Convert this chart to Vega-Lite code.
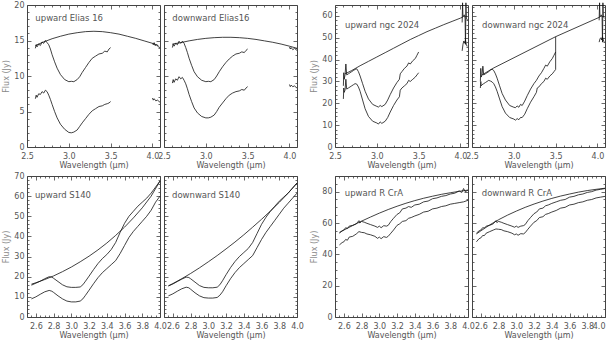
{
"$schema":"https://vega.github.io/schema/vega-lite/v6.json",
"background":"white",
"padding":{"left":2,"top":0,"right":0,"bottom":0},
"config":{"font":"DejaVu Sans","view":{"stroke":"#444","strokeWidth":1},
"axis":{"grid":false,"domain":false,"labelFlush":false,"labelOverlap":false,"labelBound":false,"labelFont":"DejaVu Sans","labelFontSize":8,"labelColor":"#555","titleFont":"DejaVu Sans","titleFontSize":8,"titleFontWeight":"normal","titleColor":"#555","tickColor":"#444","tickWidth":0.8,"labelPadding":3,"titlePadding":3},
"axisX":{"labelPadding":5,"titlePadding":1},
"line":{"color":"#111","strokeWidth":0.8},
"text":{"font":"DejaVu Sans","fontSize":8.5,"color":"#555","align":"left","baseline":"middle"}},
"datasets":{
"labels":[{"p":"A","label":"upward Elias 16"},{"p":"B","label":"downward Elias16"},{"p":"C","label":"upward ngc 2024"},{"p":"D","label":"downward ngc 2024"},{"p":"E","label":"upward S140"},{"p":"F","label":"downward S140"},{"p":"G","label":"upward R CrA"},{"p":"H","label":"downward R CrA"}],
"spec":[
{"p":"A","s":"c","x":2.6,"y":14.3},{"p":"A","s":"c","x":2.7,"y":14.8},{"p":"A","s":"c","x":2.8,"y":15.25},{"p":"A","s":"c","x":2.9,"y":15.6},{"p":"A","s":"c","x":3.0,"y":15.9},{"p":"A","s":"c","x":3.1,"y":16.1},{"p":"A","s":"c","x":3.2,"y":16.25},{"p":"A","s":"c","x":3.3,"y":16.3},{"p":"A","s":"c","x":3.4,"y":16.25},{"p":"A","s":"c","x":3.5,"y":16.1},{"p":"A","s":"c","x":3.6,"y":15.9},{"p":"A","s":"c","x":3.7,"y":15.6},{"p":"A","s":"c","x":3.8,"y":15.3},{"p":"A","s":"c","x":3.9,"y":14.95},{"p":"A","s":"c","x":4.0,"y":14.6},{"p":"A","s":"c","x":4.07,"y":14.3},
{"p":"A","s":"s1","x":2.6,"y":13.9},{"p":"A","s":"s1","x":2.61,"y":14.4},{"p":"A","s":"s1","x":2.62,"y":14.1},{"p":"A","s":"s1","x":2.64,"y":14.5},{"p":"A","s":"s1","x":2.66,"y":14.3},{"p":"A","s":"s1","x":2.68,"y":14.8},{"p":"A","s":"s1","x":2.7,"y":14.6},{"p":"A","s":"s1","x":2.72,"y":15.0},{"p":"A","s":"s1","x":2.74,"y":14.7},{"p":"A","s":"s1","x":2.76,"y":14.4},{"p":"A","s":"s1","x":2.78,"y":13.8},{"p":"A","s":"s1","x":2.8,"y":13.0},{"p":"A","s":"s1","x":2.83,"y":12.0},{"p":"A","s":"s1","x":2.86,"y":11.1},{"p":"A","s":"s1","x":2.9,"y":10.2},{"p":"A","s":"s1","x":2.95,"y":9.5},{"p":"A","s":"s1","x":3.0,"y":9.2},{"p":"A","s":"s1","x":3.03,"y":9.25},{"p":"A","s":"s1","x":3.06,"y":9.2},{"p":"A","s":"s1","x":3.1,"y":9.5},{"p":"A","s":"s1","x":3.13,"y":9.9},{"p":"A","s":"s1","x":3.16,"y":10.5},{"p":"A","s":"s1","x":3.2,"y":11.2},{"p":"A","s":"s1","x":3.24,"y":11.9},{"p":"A","s":"s1","x":3.28,"y":12.5},{"p":"A","s":"s1","x":3.32,"y":12.8},{"p":"A","s":"s1","x":3.36,"y":13.1},{"p":"A","s":"s1","x":3.4,"y":13.2},{"p":"A","s":"s1","x":3.43,"y":13.5},{"p":"A","s":"s1","x":3.46,"y":13.4},{"p":"A","s":"s1","x":3.48,"y":13.8},{"p":"A","s":"s1","x":3.5,"y":14.0},
{"p":"A","s":"s1b","x":4.0,"y":14.6},{"p":"A","s":"s1b","x":4.01,"y":14.4},{"p":"A","s":"s1b","x":4.02,"y":14.7},{"p":"A","s":"s1b","x":4.03,"y":14.3},{"p":"A","s":"s1b","x":4.05,"y":14.4},{"p":"A","s":"s1b","x":4.07,"y":14.1},{"p":"A","s":"s1b","x":4.09,"y":14.0},
{"p":"A","s":"s2","x":2.6,"y":6.8},{"p":"A","s":"s2","x":2.61,"y":7.3},{"p":"A","s":"s2","x":2.62,"y":7.0},{"p":"A","s":"s2","x":2.64,"y":7.5},{"p":"A","s":"s2","x":2.66,"y":7.4},{"p":"A","s":"s2","x":2.68,"y":7.8},{"p":"A","s":"s2","x":2.7,"y":7.6},{"p":"A","s":"s2","x":2.72,"y":8.0},{"p":"A","s":"s2","x":2.74,"y":7.8},{"p":"A","s":"s2","x":2.76,"y":7.3},{"p":"A","s":"s2","x":2.78,"y":6.7},{"p":"A","s":"s2","x":2.8,"y":6.0},{"p":"A","s":"s2","x":2.83,"y":5.0},{"p":"A","s":"s2","x":2.86,"y":4.1},{"p":"A","s":"s2","x":2.9,"y":3.2},{"p":"A","s":"s2","x":2.95,"y":2.5},{"p":"A","s":"s2","x":3.0,"y":2.05},{"p":"A","s":"s2","x":3.03,"y":2.0},{"p":"A","s":"s2","x":3.06,"y":2.1},{"p":"A","s":"s2","x":3.1,"y":2.4},{"p":"A","s":"s2","x":3.13,"y":2.9},{"p":"A","s":"s2","x":3.16,"y":3.4},{"p":"A","s":"s2","x":3.2,"y":4.0},{"p":"A","s":"s2","x":3.24,"y":4.6},{"p":"A","s":"s2","x":3.28,"y":5.1},{"p":"A","s":"s2","x":3.32,"y":5.4},{"p":"A","s":"s2","x":3.36,"y":5.7},{"p":"A","s":"s2","x":3.4,"y":5.8},{"p":"A","s":"s2","x":3.43,"y":6.0},{"p":"A","s":"s2","x":3.46,"y":6.1},{"p":"A","s":"s2","x":3.48,"y":6.2},{"p":"A","s":"s2","x":3.5,"y":6.4},
{"p":"A","s":"s2b","x":4.0,"y":6.9},{"p":"A","s":"s2b","x":4.01,"y":6.6},{"p":"A","s":"s2b","x":4.02,"y":6.8},{"p":"A","s":"s2b","x":4.04,"y":6.5},{"p":"A","s":"s2b","x":4.06,"y":6.6},{"p":"A","s":"s2b","x":4.09,"y":6.3},
{"p":"B","s":"c","x":2.6,"y":14.5},{"p":"B","s":"c","x":2.7,"y":14.7},{"p":"B","s":"c","x":2.8,"y":14.95},{"p":"B","s":"c","x":2.9,"y":15.15},{"p":"B","s":"c","x":3.0,"y":15.3},{"p":"B","s":"c","x":3.1,"y":15.4},{"p":"B","s":"c","x":3.2,"y":15.45},{"p":"B","s":"c","x":3.3,"y":15.45},{"p":"B","s":"c","x":3.4,"y":15.4},{"p":"B","s":"c","x":3.5,"y":15.3},{"p":"B","s":"c","x":3.6,"y":15.15},{"p":"B","s":"c","x":3.7,"y":14.95},{"p":"B","s":"c","x":3.8,"y":14.75},{"p":"B","s":"c","x":3.9,"y":14.5},{"p":"B","s":"c","x":4.0,"y":14.2},{"p":"B","s":"c","x":4.09,"y":13.9},
{"p":"B","s":"s1","x":2.6,"y":14.0},{"p":"B","s":"s1","x":2.61,"y":14.5},{"p":"B","s":"s1","x":2.62,"y":14.2},{"p":"B","s":"s1","x":2.64,"y":14.6},{"p":"B","s":"s1","x":2.66,"y":14.4},{"p":"B","s":"s1","x":2.68,"y":14.9},{"p":"B","s":"s1","x":2.7,"y":14.6},{"p":"B","s":"s1","x":2.72,"y":14.9},{"p":"B","s":"s1","x":2.74,"y":14.6},{"p":"B","s":"s1","x":2.76,"y":14.0},{"p":"B","s":"s1","x":2.78,"y":13.3},{"p":"B","s":"s1","x":2.8,"y":12.5},{"p":"B","s":"s1","x":2.83,"y":11.5},{"p":"B","s":"s1","x":2.86,"y":10.6},{"p":"B","s":"s1","x":2.9,"y":9.9},{"p":"B","s":"s1","x":2.95,"y":9.4},{"p":"B","s":"s1","x":3.0,"y":9.2},{"p":"B","s":"s1","x":3.03,"y":9.25},{"p":"B","s":"s1","x":3.06,"y":9.2},{"p":"B","s":"s1","x":3.1,"y":9.5},{"p":"B","s":"s1","x":3.13,"y":10.0},{"p":"B","s":"s1","x":3.16,"y":10.6},{"p":"B","s":"s1","x":3.2,"y":11.3},{"p":"B","s":"s1","x":3.24,"y":11.9},{"p":"B","s":"s1","x":3.28,"y":12.4},{"p":"B","s":"s1","x":3.32,"y":12.8},{"p":"B","s":"s1","x":3.36,"y":13.1},{"p":"B","s":"s1","x":3.4,"y":13.2},{"p":"B","s":"s1","x":3.43,"y":13.4},{"p":"B","s":"s1","x":3.46,"y":13.3},{"p":"B","s":"s1","x":3.48,"y":13.6},{"p":"B","s":"s1","x":3.5,"y":13.8},
{"p":"B","s":"s1b","x":4.0,"y":14.1},{"p":"B","s":"s1b","x":4.01,"y":13.8},{"p":"B","s":"s1b","x":4.02,"y":14.0},{"p":"B","s":"s1b","x":4.04,"y":13.7},{"p":"B","s":"s1b","x":4.06,"y":13.9},{"p":"B","s":"s1b","x":4.09,"y":13.6},
{"p":"B","s":"s2","x":2.6,"y":9.0},{"p":"B","s":"s2","x":2.61,"y":9.5},{"p":"B","s":"s2","x":2.62,"y":9.1},{"p":"B","s":"s2","x":2.64,"y":9.6},{"p":"B","s":"s2","x":2.66,"y":9.4},{"p":"B","s":"s2","x":2.68,"y":9.9},{"p":"B","s":"s2","x":2.7,"y":9.6},{"p":"B","s":"s2","x":2.72,"y":9.8},{"p":"B","s":"s2","x":2.74,"y":9.4},{"p":"B","s":"s2","x":2.76,"y":8.9},{"p":"B","s":"s2","x":2.78,"y":8.2},{"p":"B","s":"s2","x":2.8,"y":7.4},{"p":"B","s":"s2","x":2.83,"y":6.4},{"p":"B","s":"s2","x":2.86,"y":5.5},{"p":"B","s":"s2","x":2.9,"y":4.8},{"p":"B","s":"s2","x":2.95,"y":4.3},{"p":"B","s":"s2","x":3.0,"y":4.1},{"p":"B","s":"s2","x":3.03,"y":4.1},{"p":"B","s":"s2","x":3.06,"y":4.2},{"p":"B","s":"s2","x":3.1,"y":4.5},{"p":"B","s":"s2","x":3.13,"y":5.0},{"p":"B","s":"s2","x":3.16,"y":5.6},{"p":"B","s":"s2","x":3.2,"y":6.2},{"p":"B","s":"s2","x":3.24,"y":6.8},{"p":"B","s":"s2","x":3.28,"y":7.3},{"p":"B","s":"s2","x":3.32,"y":7.6},{"p":"B","s":"s2","x":3.36,"y":7.8},{"p":"B","s":"s2","x":3.4,"y":7.9},{"p":"B","s":"s2","x":3.43,"y":8.1},{"p":"B","s":"s2","x":3.46,"y":8.0},{"p":"B","s":"s2","x":3.48,"y":8.3},{"p":"B","s":"s2","x":3.5,"y":8.5},
{"p":"B","s":"s2b","x":4.0,"y":8.8},{"p":"B","s":"s2b","x":4.01,"y":8.5},{"p":"B","s":"s2b","x":4.02,"y":8.7},{"p":"B","s":"s2b","x":4.04,"y":8.5},{"p":"B","s":"s2b","x":4.06,"y":8.6},{"p":"B","s":"s2b","x":4.09,"y":8.3},
{"p":"C","s":"c","x":2.62,"y":33.5},{"p":"C","s":"c","x":2.7,"y":35},{"p":"C","s":"c","x":2.8,"y":37.2},{"p":"C","s":"c","x":2.9,"y":39.2},{"p":"C","s":"c","x":3.0,"y":41.2},{"p":"C","s":"c","x":3.1,"y":43.2},{"p":"C","s":"c","x":3.2,"y":45.2},{"p":"C","s":"c","x":3.3,"y":47.2},{"p":"C","s":"c","x":3.4,"y":49.2},{"p":"C","s":"c","x":3.5,"y":51},{"p":"C","s":"c","x":3.6,"y":52.8},{"p":"C","s":"c","x":3.7,"y":54.4},{"p":"C","s":"c","x":3.8,"y":56},{"p":"C","s":"c","x":3.9,"y":57.5},{"p":"C","s":"c","x":4.0,"y":59},{"p":"C","s":"c","x":4.03,"y":59.5},
{"p":"C","s":"s1","x":2.6,"y":28},{"p":"C","s":"s1","x":2.605,"y":34},{"p":"C","s":"s1","x":2.61,"y":31},{"p":"C","s":"s1","x":2.62,"y":33},{"p":"C","s":"s1","x":2.63,"y":38},{"p":"C","s":"s1","x":2.64,"y":33},{"p":"C","s":"s1","x":2.66,"y":33.5},{"p":"C","s":"s1","x":2.68,"y":34},{"p":"C","s":"s1","x":2.7,"y":34.5},{"p":"C","s":"s1","x":2.72,"y":35},{"p":"C","s":"s1","x":2.74,"y":35.5},{"p":"C","s":"s1","x":2.76,"y":35.8},{"p":"C","s":"s1","x":2.78,"y":34.5},{"p":"C","s":"s1","x":2.8,"y":32.5},{"p":"C","s":"s1","x":2.83,"y":29},{"p":"C","s":"s1","x":2.86,"y":25.5},{"p":"C","s":"s1","x":2.9,"y":22},{"p":"C","s":"s1","x":2.95,"y":19.5},{"p":"C","s":"s1","x":3.0,"y":18.6},{"p":"C","s":"s1","x":3.02,"y":18.3},{"p":"C","s":"s1","x":3.04,"y":19},{"p":"C","s":"s1","x":3.06,"y":18.5},{"p":"C","s":"s1","x":3.1,"y":19.5},{"p":"C","s":"s1","x":3.13,"y":21.5},{"p":"C","s":"s1","x":3.16,"y":24},{"p":"C","s":"s1","x":3.2,"y":27},{"p":"C","s":"s1","x":3.24,"y":29.5},{"p":"C","s":"s1","x":3.27,"y":31},{"p":"C","s":"s1","x":3.28,"y":33.5},{"p":"C","s":"s1","x":3.3,"y":34.5},{"p":"C","s":"s1","x":3.33,"y":36},{"p":"C","s":"s1","x":3.36,"y":37},{"p":"C","s":"s1","x":3.38,"y":38.5},{"p":"C","s":"s1","x":3.4,"y":38},{"p":"C","s":"s1","x":3.43,"y":39.5},{"p":"C","s":"s1","x":3.46,"y":40.5},{"p":"C","s":"s1","x":3.48,"y":42},{"p":"C","s":"s1","x":3.5,"y":43.5},
{"p":"C","s":"s1b","x":4.02,"y":57},{"p":"C","s":"s1b","x":4.025,"y":66},{"p":"C","s":"s1b","x":4.03,"y":59.5},{"p":"C","s":"s1b","x":4.045,"y":60.5},{"p":"C","s":"s1b","x":4.055,"y":59},{"p":"C","s":"s1b","x":4.06,"y":47},{"p":"C","s":"s1b","x":4.065,"y":66},{"p":"C","s":"s1b","x":4.07,"y":59},{"p":"C","s":"s1b","x":4.085,"y":58},
{"p":"C","s":"s2","x":2.6,"y":22},{"p":"C","s":"s2","x":2.605,"y":27},{"p":"C","s":"s2","x":2.61,"y":25},{"p":"C","s":"s2","x":2.62,"y":26},{"p":"C","s":"s2","x":2.63,"y":31},{"p":"C","s":"s2","x":2.64,"y":26.5},{"p":"C","s":"s2","x":2.66,"y":27},{"p":"C","s":"s2","x":2.68,"y":27.5},{"p":"C","s":"s2","x":2.7,"y":28},{"p":"C","s":"s2","x":2.72,"y":28.5},{"p":"C","s":"s2","x":2.74,"y":29},{"p":"C","s":"s2","x":2.76,"y":28.8},{"p":"C","s":"s2","x":2.78,"y":27.5},{"p":"C","s":"s2","x":2.8,"y":25.5},{"p":"C","s":"s2","x":2.83,"y":21.5},{"p":"C","s":"s2","x":2.86,"y":17.5},{"p":"C","s":"s2","x":2.9,"y":14},{"p":"C","s":"s2","x":2.95,"y":11.8},{"p":"C","s":"s2","x":3.0,"y":11},{"p":"C","s":"s2","x":3.02,"y":10.5},{"p":"C","s":"s2","x":3.04,"y":11.5},{"p":"C","s":"s2","x":3.06,"y":10.8},{"p":"C","s":"s2","x":3.1,"y":11.8},{"p":"C","s":"s2","x":3.13,"y":13.5},{"p":"C","s":"s2","x":3.16,"y":16},{"p":"C","s":"s2","x":3.2,"y":19},{"p":"C","s":"s2","x":3.24,"y":21.5},{"p":"C","s":"s2","x":3.27,"y":23},{"p":"C","s":"s2","x":3.28,"y":26},{"p":"C","s":"s2","x":3.3,"y":27},{"p":"C","s":"s2","x":3.33,"y":28},{"p":"C","s":"s2","x":3.36,"y":29},{"p":"C","s":"s2","x":3.38,"y":30.5},{"p":"C","s":"s2","x":3.4,"y":30},{"p":"C","s":"s2","x":3.43,"y":31},{"p":"C","s":"s2","x":3.46,"y":32},{"p":"C","s":"s2","x":3.48,"y":33},{"p":"C","s":"s2","x":3.5,"y":34},
{"p":"C","s":"s2b","x":4.02,"y":44},{"p":"C","s":"s2b","x":4.03,"y":47},{"p":"C","s":"s2b","x":4.04,"y":48.5},{"p":"C","s":"s2b","x":4.05,"y":47.5},{"p":"C","s":"s2b","x":4.06,"y":49},{"p":"C","s":"s2b","x":4.07,"y":47},{"p":"C","s":"s2b","x":4.08,"y":46},
{"p":"D","s":"c","x":2.62,"y":33},{"p":"D","s":"c","x":2.75,"y":36},{"p":"D","s":"c","x":3.5,"y":50.5},{"p":"D","s":"c","x":4.03,"y":59.5},
{"p":"D","s":"v","x":3.5,"y":50.5},{"p":"D","s":"v","x":3.5,"y":35.5},
{"p":"D","s":"s1","x":2.6,"y":30},{"p":"D","s":"s1","x":2.605,"y":36},{"p":"D","s":"s1","x":2.61,"y":32},{"p":"D","s":"s1","x":2.62,"y":33},{"p":"D","s":"s1","x":2.63,"y":37},{"p":"D","s":"s1","x":2.64,"y":33},{"p":"D","s":"s1","x":2.66,"y":33.5},{"p":"D","s":"s1","x":2.68,"y":34},{"p":"D","s":"s1","x":2.7,"y":34.5},{"p":"D","s":"s1","x":2.72,"y":35.2},{"p":"D","s":"s1","x":2.74,"y":35.6},{"p":"D","s":"s1","x":2.76,"y":35},{"p":"D","s":"s1","x":2.78,"y":33.5},{"p":"D","s":"s1","x":2.8,"y":31.5},{"p":"D","s":"s1","x":2.83,"y":28},{"p":"D","s":"s1","x":2.86,"y":24.5},{"p":"D","s":"s1","x":2.9,"y":21.5},{"p":"D","s":"s1","x":2.95,"y":19},{"p":"D","s":"s1","x":3.0,"y":18.2},{"p":"D","s":"s1","x":3.02,"y":18},{"p":"D","s":"s1","x":3.04,"y":18.8},{"p":"D","s":"s1","x":3.06,"y":18.2},{"p":"D","s":"s1","x":3.08,"y":19.5},{"p":"D","s":"s1","x":3.1,"y":19},{"p":"D","s":"s1","x":3.13,"y":21},{"p":"D","s":"s1","x":3.16,"y":23.5},{"p":"D","s":"s1","x":3.2,"y":26.5},{"p":"D","s":"s1","x":3.24,"y":29},{"p":"D","s":"s1","x":3.27,"y":30.5},{"p":"D","s":"s1","x":3.3,"y":32.5},{"p":"D","s":"s1","x":3.33,"y":34},{"p":"D","s":"s1","x":3.36,"y":36},{"p":"D","s":"s1","x":3.38,"y":37.5},{"p":"D","s":"s1","x":3.4,"y":37},{"p":"D","s":"s1","x":3.43,"y":39},{"p":"D","s":"s1","x":3.46,"y":40.5},{"p":"D","s":"s1","x":3.48,"y":42},{"p":"D","s":"s1","x":3.5,"y":43.5},
{"p":"D","s":"s1b","x":4.02,"y":58},{"p":"D","s":"s1b","x":4.025,"y":66},{"p":"D","s":"s1b","x":4.03,"y":59.5},{"p":"D","s":"s1b","x":4.045,"y":60.5},{"p":"D","s":"s1b","x":4.055,"y":59.5},{"p":"D","s":"s1b","x":4.06,"y":48},{"p":"D","s":"s1b","x":4.065,"y":66},{"p":"D","s":"s1b","x":4.07,"y":59.5},{"p":"D","s":"s1b","x":4.085,"y":59},
{"p":"D","s":"s2","x":2.6,"y":27},{"p":"D","s":"s2","x":2.605,"y":30},{"p":"D","s":"s2","x":2.61,"y":28},{"p":"D","s":"s2","x":2.62,"y":28.5},{"p":"D","s":"s2","x":2.64,"y":29},{"p":"D","s":"s2","x":2.66,"y":29.5},{"p":"D","s":"s2","x":2.68,"y":30},{"p":"D","s":"s2","x":2.7,"y":30.5},{"p":"D","s":"s2","x":2.72,"y":30.2},{"p":"D","s":"s2","x":2.74,"y":29.8},{"p":"D","s":"s2","x":2.76,"y":29},{"p":"D","s":"s2","x":2.78,"y":27.5},{"p":"D","s":"s2","x":2.8,"y":25.5},{"p":"D","s":"s2","x":2.83,"y":22},{"p":"D","s":"s2","x":2.86,"y":18.5},{"p":"D","s":"s2","x":2.9,"y":15.5},{"p":"D","s":"s2","x":2.95,"y":13.5},{"p":"D","s":"s2","x":3.0,"y":12.8},{"p":"D","s":"s2","x":3.02,"y":12.3},{"p":"D","s":"s2","x":3.04,"y":13},{"p":"D","s":"s2","x":3.06,"y":12.5},{"p":"D","s":"s2","x":3.08,"y":13.5},{"p":"D","s":"s2","x":3.1,"y":13.5},{"p":"D","s":"s2","x":3.13,"y":15},{"p":"D","s":"s2","x":3.16,"y":17.5},{"p":"D","s":"s2","x":3.2,"y":20.5},{"p":"D","s":"s2","x":3.24,"y":23},{"p":"D","s":"s2","x":3.27,"y":25},{"p":"D","s":"s2","x":3.28,"y":27},{"p":"D","s":"s2","x":3.3,"y":27.5},{"p":"D","s":"s2","x":3.33,"y":29},{"p":"D","s":"s2","x":3.36,"y":30},{"p":"D","s":"s2","x":3.38,"y":31.5},{"p":"D","s":"s2","x":3.4,"y":31},{"p":"D","s":"s2","x":3.43,"y":32.5},{"p":"D","s":"s2","x":3.46,"y":33.5},{"p":"D","s":"s2","x":3.48,"y":34.5},{"p":"D","s":"s2","x":3.5,"y":35.5},
{"p":"D","s":"s2b","x":4.02,"y":48},{"p":"D","s":"s2b","x":4.03,"y":49.5},{"p":"D","s":"s2b","x":4.04,"y":50},{"p":"D","s":"s2b","x":4.05,"y":49},{"p":"D","s":"s2b","x":4.06,"y":50.5},{"p":"D","s":"s2b","x":4.07,"y":49},{"p":"D","s":"s2b","x":4.08,"y":48},
{"p":"E","s":"c","x":2.55,"y":16.3},{"p":"E","s":"c","x":2.6,"y":17},{"p":"E","s":"c","x":2.7,"y":18.6},{"p":"E","s":"c","x":2.8,"y":20.4},{"p":"E","s":"c","x":2.9,"y":22.5},{"p":"E","s":"c","x":3.0,"y":24.8},{"p":"E","s":"c","x":3.1,"y":27.4},{"p":"E","s":"c","x":3.2,"y":30.2},{"p":"E","s":"c","x":3.3,"y":33.3},{"p":"E","s":"c","x":3.4,"y":36.7},{"p":"E","s":"c","x":3.5,"y":40.5},{"p":"E","s":"c","x":3.6,"y":44.6},{"p":"E","s":"c","x":3.7,"y":49.2},{"p":"E","s":"c","x":3.8,"y":54.2},{"p":"E","s":"c","x":3.9,"y":60},{"p":"E","s":"c","x":4.0,"y":67.5},
{"p":"E","s":"s1","x":2.55,"y":15.8},{"p":"E","s":"s1","x":2.6,"y":16.8},{"p":"E","s":"s1","x":2.65,"y":17.8},{"p":"E","s":"s1","x":2.7,"y":19},{"p":"E","s":"s1","x":2.75,"y":20},{"p":"E","s":"s1","x":2.78,"y":19.8},{"p":"E","s":"s1","x":2.8,"y":19.2},{"p":"E","s":"s1","x":2.85,"y":17.6},{"p":"E","s":"s1","x":2.9,"y":16},{"p":"E","s":"s1","x":2.95,"y":15},{"p":"E","s":"s1","x":3.0,"y":14.7},{"p":"E","s":"s1","x":3.05,"y":14.7},{"p":"E","s":"s1","x":3.1,"y":14.9},{"p":"E","s":"s1","x":3.13,"y":16},{"p":"E","s":"s1","x":3.16,"y":17.8},{"p":"E","s":"s1","x":3.2,"y":20.3},{"p":"E","s":"s1","x":3.25,"y":23.5},{"p":"E","s":"s1","x":3.3,"y":26.5},{"p":"E","s":"s1","x":3.35,"y":29},{"p":"E","s":"s1","x":3.4,"y":31},{"p":"E","s":"s1","x":3.45,"y":33.5},{"p":"E","s":"s1","x":3.5,"y":37},{"p":"E","s":"s1","x":3.55,"y":42},{"p":"E","s":"s1","x":3.6,"y":46.5},{"p":"E","s":"s1","x":3.65,"y":50},{"p":"E","s":"s1","x":3.7,"y":52.5},{"p":"E","s":"s1","x":3.75,"y":55},{"p":"E","s":"s1","x":3.8,"y":57},{"p":"E","s":"s1","x":3.85,"y":59},{"p":"E","s":"s1","x":3.9,"y":61.5},{"p":"E","s":"s1","x":3.95,"y":64.5},{"p":"E","s":"s1","x":4.0,"y":67.5},
{"p":"E","s":"s2","x":2.55,"y":9},{"p":"E","s":"s2","x":2.6,"y":10},{"p":"E","s":"s2","x":2.65,"y":11.3},{"p":"E","s":"s2","x":2.7,"y":12.5},{"p":"E","s":"s2","x":2.75,"y":13.2},{"p":"E","s":"s2","x":2.78,"y":12.8},{"p":"E","s":"s2","x":2.8,"y":12.2},{"p":"E","s":"s2","x":2.85,"y":10.5},{"p":"E","s":"s2","x":2.9,"y":9},{"p":"E","s":"s2","x":2.95,"y":7.9},{"p":"E","s":"s2","x":3.0,"y":7.5},{"p":"E","s":"s2","x":3.05,"y":7.5},{"p":"E","s":"s2","x":3.1,"y":7.9},{"p":"E","s":"s2","x":3.13,"y":9},{"p":"E","s":"s2","x":3.16,"y":10.8},{"p":"E","s":"s2","x":3.2,"y":13.3},{"p":"E","s":"s2","x":3.25,"y":16.5},{"p":"E","s":"s2","x":3.3,"y":19.5},{"p":"E","s":"s2","x":3.35,"y":22},{"p":"E","s":"s2","x":3.4,"y":24},{"p":"E","s":"s2","x":3.45,"y":26},{"p":"E","s":"s2","x":3.5,"y":28},{"p":"E","s":"s2","x":3.55,"y":31.5},{"p":"E","s":"s2","x":3.6,"y":35.5},{"p":"E","s":"s2","x":3.65,"y":39.5},{"p":"E","s":"s2","x":3.7,"y":42.5},{"p":"E","s":"s2","x":3.75,"y":45},{"p":"E","s":"s2","x":3.8,"y":47.5},{"p":"E","s":"s2","x":3.85,"y":50},{"p":"E","s":"s2","x":3.9,"y":53},{"p":"E","s":"s2","x":3.95,"y":57},{"p":"E","s":"s2","x":4.0,"y":60},
{"p":"F","s":"c","x":2.55,"y":15.5},{"p":"F","s":"c","x":2.6,"y":16.6},{"p":"F","s":"c","x":2.7,"y":19},{"p":"F","s":"c","x":2.8,"y":21.6},{"p":"F","s":"c","x":2.9,"y":24.4},{"p":"F","s":"c","x":3.0,"y":27.4},{"p":"F","s":"c","x":3.1,"y":30.5},{"p":"F","s":"c","x":3.2,"y":33.8},{"p":"F","s":"c","x":3.3,"y":37.2},{"p":"F","s":"c","x":3.4,"y":40.8},{"p":"F","s":"c","x":3.5,"y":44.6},{"p":"F","s":"c","x":3.6,"y":48.5},{"p":"F","s":"c","x":3.7,"y":52.6},{"p":"F","s":"c","x":3.8,"y":56.9},{"p":"F","s":"c","x":3.9,"y":61.5},{"p":"F","s":"c","x":4.0,"y":66.5},
{"p":"F","s":"s1","x":2.55,"y":15.4},{"p":"F","s":"s1","x":2.6,"y":16.4},{"p":"F","s":"s1","x":2.65,"y":17.6},{"p":"F","s":"s1","x":2.7,"y":18.8},{"p":"F","s":"s1","x":2.75,"y":19.8},{"p":"F","s":"s1","x":2.78,"y":19.6},{"p":"F","s":"s1","x":2.8,"y":19},{"p":"F","s":"s1","x":2.85,"y":17.3},{"p":"F","s":"s1","x":2.9,"y":15.6},{"p":"F","s":"s1","x":2.95,"y":14.7},{"p":"F","s":"s1","x":3.0,"y":14.5},{"p":"F","s":"s1","x":3.05,"y":14.5},{"p":"F","s":"s1","x":3.1,"y":14.8},{"p":"F","s":"s1","x":3.13,"y":16},{"p":"F","s":"s1","x":3.16,"y":18},{"p":"F","s":"s1","x":3.2,"y":21},{"p":"F","s":"s1","x":3.25,"y":24.5},{"p":"F","s":"s1","x":3.3,"y":27.5},{"p":"F","s":"s1","x":3.35,"y":30},{"p":"F","s":"s1","x":3.4,"y":32},{"p":"F","s":"s1","x":3.45,"y":34},{"p":"F","s":"s1","x":3.5,"y":37},{"p":"F","s":"s1","x":3.55,"y":41.5},{"p":"F","s":"s1","x":3.6,"y":46},{"p":"F","s":"s1","x":3.65,"y":49.5},{"p":"F","s":"s1","x":3.7,"y":52.5},{"p":"F","s":"s1","x":3.75,"y":55},{"p":"F","s":"s1","x":3.8,"y":57.5},{"p":"F","s":"s1","x":3.85,"y":59.5},{"p":"F","s":"s1","x":3.9,"y":61.5},{"p":"F","s":"s1","x":3.95,"y":64},{"p":"F","s":"s1","x":4.0,"y":66.5},
{"p":"F","s":"s2","x":2.55,"y":10.5},{"p":"F","s":"s2","x":2.6,"y":11.5},{"p":"F","s":"s2","x":2.65,"y":12.8},{"p":"F","s":"s2","x":2.7,"y":14},{"p":"F","s":"s2","x":2.75,"y":14.8},{"p":"F","s":"s2","x":2.78,"y":14.5},{"p":"F","s":"s2","x":2.8,"y":13.8},{"p":"F","s":"s2","x":2.85,"y":12},{"p":"F","s":"s2","x":2.9,"y":10.5},{"p":"F","s":"s2","x":2.95,"y":9.6},{"p":"F","s":"s2","x":3.0,"y":9.4},{"p":"F","s":"s2","x":3.05,"y":9.4},{"p":"F","s":"s2","x":3.1,"y":9.7},{"p":"F","s":"s2","x":3.13,"y":10.8},{"p":"F","s":"s2","x":3.16,"y":12.5},{"p":"F","s":"s2","x":3.2,"y":15.5},{"p":"F","s":"s2","x":3.25,"y":19},{"p":"F","s":"s2","x":3.3,"y":22},{"p":"F","s":"s2","x":3.35,"y":24.5},{"p":"F","s":"s2","x":3.4,"y":26.5},{"p":"F","s":"s2","x":3.45,"y":28.5},{"p":"F","s":"s2","x":3.5,"y":30.5},{"p":"F","s":"s2","x":3.55,"y":34.5},{"p":"F","s":"s2","x":3.6,"y":38.5},{"p":"F","s":"s2","x":3.65,"y":42},{"p":"F","s":"s2","x":3.7,"y":45},{"p":"F","s":"s2","x":3.75,"y":48},{"p":"F","s":"s2","x":3.8,"y":51},{"p":"F","s":"s2","x":3.85,"y":54},{"p":"F","s":"s2","x":3.9,"y":56.5},{"p":"F","s":"s2","x":3.95,"y":59},{"p":"F","s":"s2","x":4.0,"y":61.5},
{"p":"G","s":"c","x":2.55,"y":54},{"p":"G","s":"c","x":2.6,"y":55.5},{"p":"G","s":"c","x":2.7,"y":58.4},{"p":"G","s":"c","x":2.8,"y":61.2},{"p":"G","s":"c","x":2.9,"y":63.8},{"p":"G","s":"c","x":3.0,"y":66.3},{"p":"G","s":"c","x":3.1,"y":68.6},{"p":"G","s":"c","x":3.2,"y":70.7},{"p":"G","s":"c","x":3.3,"y":72.6},{"p":"G","s":"c","x":3.4,"y":74.3},{"p":"G","s":"c","x":3.5,"y":75.8},{"p":"G","s":"c","x":3.6,"y":77.1},{"p":"G","s":"c","x":3.7,"y":78.3},{"p":"G","s":"c","x":3.8,"y":79.3},{"p":"G","s":"c","x":3.9,"y":80.2},{"p":"G","s":"c","x":4.0,"y":81},
{"p":"G","s":"s1","x":2.55,"y":53.5},{"p":"G","s":"s1","x":2.58,"y":55},{"p":"G","s":"s1","x":2.6,"y":55.5},{"p":"G","s":"s1","x":2.62,"y":57},{"p":"G","s":"s1","x":2.64,"y":56.5},{"p":"G","s":"s1","x":2.66,"y":58},{"p":"G","s":"s1","x":2.7,"y":58.5},{"p":"G","s":"s1","x":2.74,"y":59.5},{"p":"G","s":"s1","x":2.77,"y":61.5},{"p":"G","s":"s1","x":2.78,"y":60},{"p":"G","s":"s1","x":2.8,"y":61},{"p":"G","s":"s1","x":2.83,"y":60.5},{"p":"G","s":"s1","x":2.86,"y":59.8},{"p":"G","s":"s1","x":2.9,"y":59},{"p":"G","s":"s1","x":2.95,"y":58},{"p":"G","s":"s1","x":2.98,"y":57.2},{"p":"G","s":"s1","x":3.0,"y":58},{"p":"G","s":"s1","x":3.02,"y":57},{"p":"G","s":"s1","x":3.05,"y":58.3},{"p":"G","s":"s1","x":3.08,"y":58},{"p":"G","s":"s1","x":3.1,"y":58.5},{"p":"G","s":"s1","x":3.13,"y":61},{"p":"G","s":"s1","x":3.16,"y":63},{"p":"G","s":"s1","x":3.2,"y":65.5},{"p":"G","s":"s1","x":3.23,"y":66.5},{"p":"G","s":"s1","x":3.26,"y":69},{"p":"G","s":"s1","x":3.3,"y":69.5},{"p":"G","s":"s1","x":3.33,"y":70.5},{"p":"G","s":"s1","x":3.36,"y":70},{"p":"G","s":"s1","x":3.4,"y":71.5},{"p":"G","s":"s1","x":3.45,"y":72},{"p":"G","s":"s1","x":3.5,"y":73.5},{"p":"G","s":"s1","x":3.55,"y":74},{"p":"G","s":"s1","x":3.6,"y":75.5},{"p":"G","s":"s1","x":3.65,"y":76},{"p":"G","s":"s1","x":3.7,"y":77},{"p":"G","s":"s1","x":3.75,"y":77.5},{"p":"G","s":"s1","x":3.8,"y":78.5},{"p":"G","s":"s1","x":3.85,"y":79},{"p":"G","s":"s1","x":3.9,"y":80.5},{"p":"G","s":"s1","x":3.93,"y":79.5},{"p":"G","s":"s1","x":3.95,"y":82},{"p":"G","s":"s1","x":3.97,"y":80},{"p":"G","s":"s1","x":4.0,"y":81},
{"p":"G","s":"s2","x":2.55,"y":46},{"p":"G","s":"s2","x":2.58,"y":47.5},{"p":"G","s":"s2","x":2.6,"y":48},{"p":"G","s":"s2","x":2.62,"y":49.5},{"p":"G","s":"s2","x":2.64,"y":49},{"p":"G","s":"s2","x":2.66,"y":51},{"p":"G","s":"s2","x":2.7,"y":51.5},{"p":"G","s":"s2","x":2.74,"y":53},{"p":"G","s":"s2","x":2.77,"y":54.5},{"p":"G","s":"s2","x":2.8,"y":54},{"p":"G","s":"s2","x":2.83,"y":53.8},{"p":"G","s":"s2","x":2.86,"y":53},{"p":"G","s":"s2","x":2.9,"y":52.5},{"p":"G","s":"s2","x":2.95,"y":51.5},{"p":"G","s":"s2","x":2.98,"y":50.2},{"p":"G","s":"s2","x":3.0,"y":51},{"p":"G","s":"s2","x":3.02,"y":50},{"p":"G","s":"s2","x":3.05,"y":51.3},{"p":"G","s":"s2","x":3.08,"y":50.8},{"p":"G","s":"s2","x":3.1,"y":51.5},{"p":"G","s":"s2","x":3.13,"y":53.5},{"p":"G","s":"s2","x":3.16,"y":55.5},{"p":"G","s":"s2","x":3.2,"y":58.5},{"p":"G","s":"s2","x":3.23,"y":59.5},{"p":"G","s":"s2","x":3.26,"y":61},{"p":"G","s":"s2","x":3.3,"y":61.5},{"p":"G","s":"s2","x":3.33,"y":63},{"p":"G","s":"s2","x":3.36,"y":63.5},{"p":"G","s":"s2","x":3.4,"y":64.5},{"p":"G","s":"s2","x":3.45,"y":65.5},{"p":"G","s":"s2","x":3.5,"y":67},{"p":"G","s":"s2","x":3.55,"y":67.5},{"p":"G","s":"s2","x":3.6,"y":69},{"p":"G","s":"s2","x":3.65,"y":69.5},{"p":"G","s":"s2","x":3.7,"y":70.5},{"p":"G","s":"s2","x":3.75,"y":71},{"p":"G","s":"s2","x":3.8,"y":72},{"p":"G","s":"s2","x":3.85,"y":72.5},{"p":"G","s":"s2","x":3.9,"y":73},{"p":"G","s":"s2","x":3.95,"y":73.5},{"p":"G","s":"s2","x":4.0,"y":74.5},
{"p":"H","s":"c","x":2.55,"y":53},{"p":"H","s":"c","x":2.6,"y":55},{"p":"H","s":"c","x":2.7,"y":58.8},{"p":"H","s":"c","x":2.8,"y":62.1},{"p":"H","s":"c","x":2.9,"y":65},{"p":"H","s":"c","x":3.0,"y":67.6},{"p":"H","s":"c","x":3.1,"y":70},{"p":"H","s":"c","x":3.2,"y":72.1},{"p":"H","s":"c","x":3.3,"y":74},{"p":"H","s":"c","x":3.4,"y":75.7},{"p":"H","s":"c","x":3.5,"y":77.2},{"p":"H","s":"c","x":3.6,"y":78.5},{"p":"H","s":"c","x":3.7,"y":79.7},{"p":"H","s":"c","x":3.8,"y":80.7},{"p":"H","s":"c","x":3.9,"y":81.5},{"p":"H","s":"c","x":4.0,"y":82.2},
{"p":"H","s":"s1","x":2.55,"y":53.5},{"p":"H","s":"s1","x":2.58,"y":55},{"p":"H","s":"s1","x":2.6,"y":55.5},{"p":"H","s":"s1","x":2.62,"y":57},{"p":"H","s":"s1","x":2.64,"y":56.8},{"p":"H","s":"s1","x":2.66,"y":58},{"p":"H","s":"s1","x":2.7,"y":58.5},{"p":"H","s":"s1","x":2.74,"y":59.5},{"p":"H","s":"s1","x":2.77,"y":61.5},{"p":"H","s":"s1","x":2.78,"y":60.3},{"p":"H","s":"s1","x":2.8,"y":61},{"p":"H","s":"s1","x":2.83,"y":60.5},{"p":"H","s":"s1","x":2.86,"y":59.8},{"p":"H","s":"s1","x":2.9,"y":59},{"p":"H","s":"s1","x":2.95,"y":58},{"p":"H","s":"s1","x":2.98,"y":57.3},{"p":"H","s":"s1","x":3.0,"y":58},{"p":"H","s":"s1","x":3.02,"y":57.2},{"p":"H","s":"s1","x":3.05,"y":58},{"p":"H","s":"s1","x":3.08,"y":58.3},{"p":"H","s":"s1","x":3.1,"y":59},{"p":"H","s":"s1","x":3.13,"y":61.5},{"p":"H","s":"s1","x":3.16,"y":63.5},{"p":"H","s":"s1","x":3.2,"y":66},{"p":"H","s":"s1","x":3.23,"y":67},{"p":"H","s":"s1","x":3.26,"y":69},{"p":"H","s":"s1","x":3.3,"y":69.5},{"p":"H","s":"s1","x":3.33,"y":71},{"p":"H","s":"s1","x":3.36,"y":71.5},{"p":"H","s":"s1","x":3.4,"y":72.5},{"p":"H","s":"s1","x":3.45,"y":73.5},{"p":"H","s":"s1","x":3.5,"y":74.5},{"p":"H","s":"s1","x":3.55,"y":75},{"p":"H","s":"s1","x":3.6,"y":76.5},{"p":"H","s":"s1","x":3.65,"y":77},{"p":"H","s":"s1","x":3.7,"y":78},{"p":"H","s":"s1","x":3.75,"y":78.5},{"p":"H","s":"s1","x":3.8,"y":79.5},{"p":"H","s":"s1","x":3.85,"y":80},{"p":"H","s":"s1","x":3.9,"y":81},{"p":"H","s":"s1","x":3.95,"y":81.5},{"p":"H","s":"s1","x":4.0,"y":82},
{"p":"H","s":"s2","x":2.55,"y":48},{"p":"H","s":"s2","x":2.58,"y":50},{"p":"H","s":"s2","x":2.6,"y":50.5},{"p":"H","s":"s2","x":2.62,"y":52},{"p":"H","s":"s2","x":2.64,"y":52},{"p":"H","s":"s2","x":2.66,"y":53.5},{"p":"H","s":"s2","x":2.7,"y":54.5},{"p":"H","s":"s2","x":2.74,"y":55.5},{"p":"H","s":"s2","x":2.77,"y":56.2},{"p":"H","s":"s2","x":2.8,"y":56},{"p":"H","s":"s2","x":2.83,"y":55.8},{"p":"H","s":"s2","x":2.86,"y":55},{"p":"H","s":"s2","x":2.9,"y":54.5},{"p":"H","s":"s2","x":2.95,"y":53.5},{"p":"H","s":"s2","x":2.98,"y":52.5},{"p":"H","s":"s2","x":3.0,"y":53},{"p":"H","s":"s2","x":3.02,"y":52.2},{"p":"H","s":"s2","x":3.05,"y":53.2},{"p":"H","s":"s2","x":3.08,"y":53},{"p":"H","s":"s2","x":3.1,"y":53.8},{"p":"H","s":"s2","x":3.13,"y":56},{"p":"H","s":"s2","x":3.16,"y":58},{"p":"H","s":"s2","x":3.2,"y":60.5},{"p":"H","s":"s2","x":3.23,"y":61.5},{"p":"H","s":"s2","x":3.26,"y":63.5},{"p":"H","s":"s2","x":3.3,"y":64},{"p":"H","s":"s2","x":3.33,"y":65.5},{"p":"H","s":"s2","x":3.36,"y":66},{"p":"H","s":"s2","x":3.4,"y":67},{"p":"H","s":"s2","x":3.45,"y":68},{"p":"H","s":"s2","x":3.5,"y":69.5},{"p":"H","s":"s2","x":3.55,"y":70},{"p":"H","s":"s2","x":3.6,"y":71.5},{"p":"H","s":"s2","x":3.65,"y":72},{"p":"H","s":"s2","x":3.7,"y":73},{"p":"H","s":"s2","x":3.75,"y":73.5},{"p":"H","s":"s2","x":3.8,"y":74.5},{"p":"H","s":"s2","x":3.85,"y":75},{"p":"H","s":"s2","x":3.9,"y":76},{"p":"H","s":"s2","x":3.95,"y":76.5},{"p":"H","s":"s2","x":4.0,"y":77}
]},
"columns":5,
"spacing":{"row":29,"column":4},
"bounds":"flush",
"concat":[
{"width":133,"height":142,"layer":[
{"data":{"name":"spec"},"transform":[{"filter":"datum.p=='A'"}],"mark":"line","encoding":{"x":{"field":"x","type":"quantitative","scale":{"domain":[2.5,4.09],"nice":false,"zero":false},"axis":{"orient":"bottom","values":[2.5,3,3.5,4],"format":".1f","ticks":false,"title":"Wavelength (μm)"}},"y":{"field":"y","type":"quantitative","scale":{"domain":[0,20],"nice":false},"axis":{"orient":"left","values":[0,5,10,15,20],"format":"d","ticks":false,"title":"Flux (Jy)","titleColor":"#888"}},"detail":{"field":"s"}}},
{"data":{"name":"labels"},"transform":[{"filter":"datum.p=='A'"}],"mark":"text","encoding":{"x":{"datum":2.6,"type":"quantitative","scale":{"domain":[2.5,4.09],"nice":false,"zero":false},"axis":{"orient":"bottom","labels":false,"title":null,"tickCount":16,"tickSize":{"condition":{"test":"abs(datum.value*2-round(datum.value*2))<0.001","value":-4},"value":-2}}},"y":{"datum":18.2,"type":"quantitative","scale":{"domain":[0,20],"nice":false},"axis":{"orient":"left","labels":false,"title":null,"tickCount":20,"tickSize":{"condition":{"test":"abs(datum.value/5-round(datum.value/5))<0.001","value":-4},"value":-2}}},"text":{"field":"label"}}},
{"data":{"name":"labels"},"transform":[{"filter":"datum.p=='A'"}],"mark":{"type":"point","opacity":0},"encoding":{"x":{"datum":2.6,"type":"quantitative","scale":{"domain":[2.5,4.09],"nice":false,"zero":false},"axis":{"orient":"top","labels":false,"title":null,"tickCount":16,"tickSize":{"condition":{"test":"abs(datum.value*2-round(datum.value*2))<0.001","value":-4},"value":-2}}},"y":{"datum":18.2,"type":"quantitative","scale":{"domain":[0,20],"nice":false},"axis":{"orient":"right","labels":false,"title":null,"tickCount":20,"tickSize":{"condition":{"test":"abs(datum.value/5-round(datum.value/5))<0.001","value":-4},"value":-2}}}}}
],"resolve":{"axis":{"x":"independent","y":"independent"}}},
{"width":133,"height":142,"layer":[
{"data":{"name":"spec"},"transform":[{"filter":"datum.p=='B'"}],"mark":"line","encoding":{"x":{"field":"x","type":"quantitative","scale":{"domain":[2.5,4.09],"nice":false,"zero":false},"axis":{"orient":"bottom","values":[2.5,3,3.5,4],"format":".1f","ticks":false,"title":"Wavelength (μm)"}},"y":{"field":"y","type":"quantitative","scale":{"domain":[0,20],"nice":false},"axis":null},"detail":{"field":"s"}}},
{"data":{"name":"labels"},"transform":[{"filter":"datum.p=='B'"}],"mark":"text","encoding":{"x":{"datum":2.6,"type":"quantitative","scale":{"domain":[2.5,4.09],"nice":false,"zero":false},"axis":{"orient":"bottom","labels":false,"title":null,"tickCount":16,"tickSize":{"condition":{"test":"abs(datum.value*2-round(datum.value*2))<0.001","value":-4},"value":-2}}},"y":{"datum":18.2,"type":"quantitative","scale":{"domain":[0,20],"nice":false},"axis":{"orient":"left","labels":false,"title":null,"tickCount":20,"tickSize":{"condition":{"test":"abs(datum.value/5-round(datum.value/5))<0.001","value":-4},"value":-2}}},"text":{"field":"label"}}},
{"data":{"name":"labels"},"transform":[{"filter":"datum.p=='B'"}],"mark":{"type":"point","opacity":0},"encoding":{"x":{"datum":2.6,"type":"quantitative","scale":{"domain":[2.5,4.09],"nice":false,"zero":false},"axis":{"orient":"top","labels":false,"title":null,"tickCount":16,"tickSize":{"condition":{"test":"abs(datum.value*2-round(datum.value*2))<0.001","value":-4},"value":-2}}},"y":{"datum":18.2,"type":"quantitative","scale":{"domain":[0,20],"nice":false},"axis":{"orient":"right","labels":false,"title":null,"tickCount":20,"tickSize":{"condition":{"test":"abs(datum.value/5-round(datum.value/5))<0.001","value":-4},"value":-2}}}}}
],"resolve":{"axis":{"x":"independent","y":"independent"}}},
{"width":30,"height":142,"data":{"values":[{"k":1}]},"mark":{"type":"point","opacity":0},"encoding":{},"view":{"stroke":null}},
{"width":133,"height":142,"layer":[
{"data":{"name":"spec"},"transform":[{"filter":"datum.p=='C'"}],"mark":"line","encoding":{"x":{"field":"x","type":"quantitative","scale":{"domain":[2.5,4.09],"nice":false,"zero":false},"axis":{"orient":"bottom","values":[2.5,3,3.5,4],"format":".1f","ticks":false,"title":"Wavelength (μm)"}},"y":{"field":"y","type":"quantitative","scale":{"domain":[0,65],"nice":false},"axis":{"orient":"left","values":[0,10,20,30,40,50,60],"format":"d","ticks":false,"title":"Flux (Jy)","titleColor":"#888"}},"detail":{"field":"s"}}},
{"data":{"name":"labels"},"transform":[{"filter":"datum.p=='C'"}],"mark":"text","encoding":{"x":{"datum":2.62,"type":"quantitative","scale":{"domain":[2.5,4.09],"nice":false,"zero":false},"axis":{"orient":"bottom","labels":false,"title":null,"tickCount":16,"tickSize":{"condition":{"test":"abs(datum.value*2-round(datum.value*2))<0.001","value":-4},"value":-2}}},"y":{"datum":55.7,"type":"quantitative","scale":{"domain":[0,65],"nice":false},"axis":{"orient":"left","labels":false,"title":null,"tickCount":32,"tickSize":{"condition":{"test":"abs(datum.value/10-round(datum.value/10))<0.001","value":-4},"value":-2}}},"text":{"field":"label"}}},
{"data":{"name":"labels"},"transform":[{"filter":"datum.p=='C'"}],"mark":{"type":"point","opacity":0},"encoding":{"x":{"datum":2.62,"type":"quantitative","scale":{"domain":[2.5,4.09],"nice":false,"zero":false},"axis":{"orient":"top","labels":false,"title":null,"tickCount":16,"tickSize":{"condition":{"test":"abs(datum.value*2-round(datum.value*2))<0.001","value":-4},"value":-2}}},"y":{"datum":55.7,"type":"quantitative","scale":{"domain":[0,65],"nice":false},"axis":{"orient":"right","labels":false,"title":null,"tickCount":32,"tickSize":{"condition":{"test":"abs(datum.value/10-round(datum.value/10))<0.001","value":-4},"value":-2}}}}}
],"resolve":{"axis":{"x":"independent","y":"independent"}}},
{"width":133,"height":142,"layer":[
{"data":{"name":"spec"},"transform":[{"filter":"datum.p=='D'"}],"mark":"line","encoding":{"x":{"field":"x","type":"quantitative","scale":{"domain":[2.5,4.09],"nice":false,"zero":false},"axis":{"orient":"bottom","values":[2.5,3,3.5,4],"format":".1f","ticks":false,"title":"Wavelength (μm)"}},"y":{"field":"y","type":"quantitative","scale":{"domain":[0,65],"nice":false},"axis":null},"detail":{"field":"s"}}},
{"data":{"name":"labels"},"transform":[{"filter":"datum.p=='D'"}],"mark":"text","encoding":{"x":{"datum":2.62,"type":"quantitative","scale":{"domain":[2.5,4.09],"nice":false,"zero":false},"axis":{"orient":"bottom","labels":false,"title":null,"tickCount":16,"tickSize":{"condition":{"test":"abs(datum.value*2-round(datum.value*2))<0.001","value":-4},"value":-2}}},"y":{"datum":55.7,"type":"quantitative","scale":{"domain":[0,65],"nice":false},"axis":{"orient":"left","labels":false,"title":null,"tickCount":32,"tickSize":{"condition":{"test":"abs(datum.value/10-round(datum.value/10))<0.001","value":-4},"value":-2}}},"text":{"field":"label"}}},
{"data":{"name":"labels"},"transform":[{"filter":"datum.p=='D'"}],"mark":{"type":"point","opacity":0},"encoding":{"x":{"datum":2.62,"type":"quantitative","scale":{"domain":[2.5,4.09],"nice":false,"zero":false},"axis":{"orient":"top","labels":false,"title":null,"tickCount":16,"tickSize":{"condition":{"test":"abs(datum.value*2-round(datum.value*2))<0.001","value":-4},"value":-2}}},"y":{"datum":55.7,"type":"quantitative","scale":{"domain":[0,65],"nice":false},"axis":{"orient":"right","labels":false,"title":null,"tickCount":32,"tickSize":{"condition":{"test":"abs(datum.value/10-round(datum.value/10))<0.001","value":-4},"value":-2}}}}}
],"resolve":{"axis":{"x":"independent","y":"independent"}}},
{"width":133,"height":141,"layer":[
{"data":{"name":"spec"},"transform":[{"filter":"datum.p=='E'"}],"mark":"line","encoding":{"x":{"field":"x","type":"quantitative","scale":{"domain":[2.5,4.0],"nice":false,"zero":false},"axis":{"orient":"bottom","values":[2.6,2.8,3.0,3.2,3.4,3.6,3.8,4.0],"format":".1f","ticks":false,"title":"Wavelength (μm)"}},"y":{"field":"y","type":"quantitative","scale":{"domain":[0,70],"nice":false},"axis":{"orient":"left","values":[0,10,20,30,40,50,60,70],"format":"d","ticks":false,"title":"Flux (Jy)","titleColor":"#888"}},"detail":{"field":"s"}}},
{"data":{"name":"labels"},"transform":[{"filter":"datum.p=='E'"}],"mark":"text","encoding":{"x":{"datum":2.59,"type":"quantitative","scale":{"domain":[2.5,4.0],"nice":false,"zero":false},"axis":{"orient":"bottom","labels":false,"title":null,"tickCount":30,"tickSize":{"condition":{"test":"abs(datum.value*5-round(datum.value*5))<0.001","value":-4},"value":-2}}},"y":{"datum":60.8,"type":"quantitative","scale":{"domain":[0,70],"nice":false},"axis":{"orient":"left","labels":false,"title":null,"tickCount":35,"tickSize":{"condition":{"test":"abs(datum.value/10-round(datum.value/10))<0.001","value":-4},"value":-2}}},"text":{"field":"label"}}},
{"data":{"name":"labels"},"transform":[{"filter":"datum.p=='E'"}],"mark":{"type":"point","opacity":0},"encoding":{"x":{"datum":2.59,"type":"quantitative","scale":{"domain":[2.5,4.0],"nice":false,"zero":false},"axis":{"orient":"top","labels":false,"title":null,"tickCount":30,"tickSize":{"condition":{"test":"abs(datum.value*5-round(datum.value*5))<0.001","value":-4},"value":-2}}},"y":{"datum":60.8,"type":"quantitative","scale":{"domain":[0,70],"nice":false},"axis":{"orient":"right","labels":false,"title":null,"tickCount":35,"tickSize":{"condition":{"test":"abs(datum.value/10-round(datum.value/10))<0.001","value":-4},"value":-2}}}}}
],"resolve":{"axis":{"x":"independent","y":"independent"}}},
{"width":133,"height":141,"layer":[
{"data":{"name":"spec"},"transform":[{"filter":"datum.p=='F'"}],"mark":"line","encoding":{"x":{"field":"x","type":"quantitative","scale":{"domain":[2.5,4.0],"nice":false,"zero":false},"axis":{"orient":"bottom","values":[2.6,2.8,3.0,3.2,3.4,3.6,3.8,4.0],"format":".1f","ticks":false,"title":"Wavelength (μm)"}},"y":{"field":"y","type":"quantitative","scale":{"domain":[0,70],"nice":false},"axis":null},"detail":{"field":"s"}}},
{"data":{"name":"labels"},"transform":[{"filter":"datum.p=='F'"}],"mark":"text","encoding":{"x":{"datum":2.59,"type":"quantitative","scale":{"domain":[2.5,4.0],"nice":false,"zero":false},"axis":{"orient":"bottom","labels":false,"title":null,"tickCount":30,"tickSize":{"condition":{"test":"abs(datum.value*5-round(datum.value*5))<0.001","value":-4},"value":-2}}},"y":{"datum":60.8,"type":"quantitative","scale":{"domain":[0,70],"nice":false},"axis":{"orient":"left","labels":false,"title":null,"tickCount":35,"tickSize":{"condition":{"test":"abs(datum.value/10-round(datum.value/10))<0.001","value":-4},"value":-2}}},"text":{"field":"label"}}},
{"data":{"name":"labels"},"transform":[{"filter":"datum.p=='F'"}],"mark":{"type":"point","opacity":0},"encoding":{"x":{"datum":2.59,"type":"quantitative","scale":{"domain":[2.5,4.0],"nice":false,"zero":false},"axis":{"orient":"top","labels":false,"title":null,"tickCount":30,"tickSize":{"condition":{"test":"abs(datum.value*5-round(datum.value*5))<0.001","value":-4},"value":-2}}},"y":{"datum":60.8,"type":"quantitative","scale":{"domain":[0,70],"nice":false},"axis":{"orient":"right","labels":false,"title":null,"tickCount":35,"tickSize":{"condition":{"test":"abs(datum.value/10-round(datum.value/10))<0.001","value":-4},"value":-2}}}}}
],"resolve":{"axis":{"x":"independent","y":"independent"}}},
{"width":30,"height":141,"data":{"values":[{"k":1}]},"mark":{"type":"point","opacity":0},"encoding":{},"view":{"stroke":null}},
{"width":133,"height":141,"layer":[
{"data":{"name":"spec"},"transform":[{"filter":"datum.p=='G'"}],"mark":"line","encoding":{"x":{"field":"x","type":"quantitative","scale":{"domain":[2.5,4.0],"nice":false,"zero":false},"axis":{"orient":"bottom","values":[2.6,2.8,3.0,3.2,3.4,3.6,3.8,4.0],"format":".1f","ticks":false,"title":"Wavelength (μm)"}},"y":{"field":"y","type":"quantitative","scale":{"domain":[0,90],"nice":false},"axis":{"orient":"left","values":[0,20,40,60,80],"format":"d","ticks":false,"title":"Flux (Jy)","titleColor":"#888"}},"detail":{"field":"s"}}},
{"data":{"name":"labels"},"transform":[{"filter":"datum.p=='G'"}],"mark":"text","encoding":{"x":{"datum":2.61,"type":"quantitative","scale":{"domain":[2.5,4.0],"nice":false,"zero":false},"axis":{"orient":"bottom","labels":false,"title":null,"tickCount":30,"tickSize":{"condition":{"test":"abs(datum.value*5-round(datum.value*5))<0.001","value":-4},"value":-2}}},"y":{"datum":79.3,"type":"quantitative","scale":{"domain":[0,90],"nice":false},"axis":{"orient":"left","labels":false,"title":null,"tickCount":18,"tickSize":{"condition":{"test":"abs(datum.value/20-round(datum.value/20))<0.001","value":-4},"value":-2}}},"text":{"field":"label"}}},
{"data":{"name":"labels"},"transform":[{"filter":"datum.p=='G'"}],"mark":{"type":"point","opacity":0},"encoding":{"x":{"datum":2.61,"type":"quantitative","scale":{"domain":[2.5,4.0],"nice":false,"zero":false},"axis":{"orient":"top","labels":false,"title":null,"tickCount":30,"tickSize":{"condition":{"test":"abs(datum.value*5-round(datum.value*5))<0.001","value":-4},"value":-2}}},"y":{"datum":79.3,"type":"quantitative","scale":{"domain":[0,90],"nice":false},"axis":{"orient":"right","labels":false,"title":null,"tickCount":18,"tickSize":{"condition":{"test":"abs(datum.value/20-round(datum.value/20))<0.001","value":-4},"value":-2}}}}}
],"resolve":{"axis":{"x":"independent","y":"independent"}}},
{"width":133,"height":141,"layer":[
{"data":{"name":"spec"},"transform":[{"filter":"datum.p=='H'"}],"mark":"line","encoding":{"x":{"field":"x","type":"quantitative","scale":{"domain":[2.5,4.0],"nice":false,"zero":false},"axis":{"orient":"bottom","values":[2.6,2.8,3.0,3.2,3.4,3.6,3.8,4.0],"format":".1f","ticks":false,"labelFlush":true,"title":"Wavelength (μm)"}},"y":{"field":"y","type":"quantitative","scale":{"domain":[0,90],"nice":false},"axis":null},"detail":{"field":"s"}}},
{"data":{"name":"labels"},"transform":[{"filter":"datum.p=='H'"}],"mark":"text","encoding":{"x":{"datum":2.61,"type":"quantitative","scale":{"domain":[2.5,4.0],"nice":false,"zero":false},"axis":{"orient":"bottom","labels":false,"title":null,"tickCount":30,"tickSize":{"condition":{"test":"abs(datum.value*5-round(datum.value*5))<0.001","value":-4},"value":-2}}},"y":{"datum":79.3,"type":"quantitative","scale":{"domain":[0,90],"nice":false},"axis":{"orient":"left","labels":false,"title":null,"tickCount":18,"tickSize":{"condition":{"test":"abs(datum.value/20-round(datum.value/20))<0.001","value":-4},"value":-2}}},"text":{"field":"label"}}},
{"data":{"name":"labels"},"transform":[{"filter":"datum.p=='H'"}],"mark":{"type":"point","opacity":0},"encoding":{"x":{"datum":2.61,"type":"quantitative","scale":{"domain":[2.5,4.0],"nice":false,"zero":false},"axis":{"orient":"top","labels":false,"title":null,"tickCount":30,"tickSize":{"condition":{"test":"abs(datum.value*5-round(datum.value*5))<0.001","value":-4},"value":-2}}},"y":{"datum":79.3,"type":"quantitative","scale":{"domain":[0,90],"nice":false},"axis":{"orient":"right","labels":false,"title":null,"tickCount":18,"tickSize":{"condition":{"test":"abs(datum.value/20-round(datum.value/20))<0.001","value":-4},"value":-2}}}}}
],"resolve":{"axis":{"x":"independent","y":"independent"}}}
]
}
